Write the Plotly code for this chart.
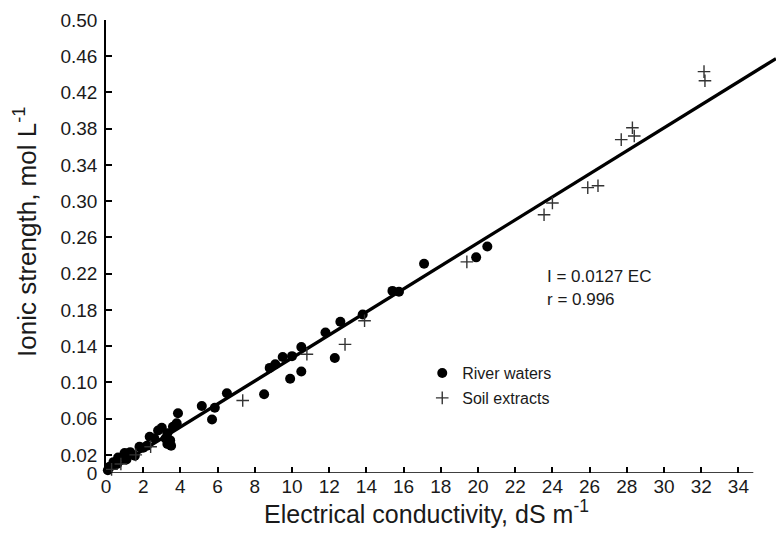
import plotly.graph_objects as go

# River waters (EC dS/m, ionic strength mol/L)
river_ec = [0.1, 0.2, 0.4, 0.6, 0.65, 1.0, 1.1, 1.3, 1.55, 1.8, 2.0, 2.2, 2.35, 2.6, 2.8, 3.0,
            3.2, 3.3, 3.3, 3.45, 3.5, 3.6, 3.8, 3.87, 5.15, 5.7, 5.85, 6.5, 8.5, 8.8, 9.1,
            9.5, 9.9, 10.0, 10.5, 10.5, 11.8, 12.3, 12.6, 13.8, 15.4, 15.75, 17.1, 19.9, 20.5]
river_i = [0.003, 0.007, 0.012, 0.010, 0.017, 0.022, 0.015, 0.023, 0.019, 0.029, 0.028, 0.030,
           0.040, 0.038, 0.047, 0.050, 0.038, 0.044, 0.032, 0.036, 0.030, 0.051, 0.055, 0.066,
           0.074, 0.059, 0.072, 0.088, 0.087, 0.116, 0.120, 0.128, 0.104, 0.129, 0.112, 0.139,
           0.155, 0.127, 0.167, 0.175, 0.201, 0.200, 0.231, 0.238, 0.250]

# Soil extracts
soil_ec = [0.3, 0.8, 1.6, 2.4, 7.35, 10.8, 12.85, 13.9, 19.4, 23.55, 24.0, 25.9, 26.45,
           27.7, 28.3, 28.4, 32.15, 32.2]
soil_i = [0.004, 0.010, 0.020, 0.029, 0.080, 0.131, 0.142, 0.168, 0.233, 0.285, 0.298, 0.315,
          0.317, 0.368, 0.381, 0.372, 0.443, 0.433]

slope = 0.0127
fit_ec = [0.0, 36.02]
fit_i = [slope * e for e in fit_ec]

x_ticks = list(range(0, 35, 2))
y_ticks = [0, 0.02, 0.06, 0.10, 0.14, 0.18, 0.22, 0.26, 0.30, 0.34, 0.38, 0.42, 0.46, 0.50]
y_tick_text = ["0"] + [f"{v:.2f}" for v in y_ticks[1:]]

FONT = "Liberation Sans, Arial, sans-serif"
INK = "#1a1a1a"

fig = go.Figure()
fig.add_trace(go.Scatter(x=fit_ec, y=fit_i, mode="lines", line=dict(color="black", width=3.3),
                         showlegend=False, hoverinfo="skip"))
fig.add_trace(go.Scatter(x=river_ec, y=river_i, mode="markers", name="River waters",
                         marker=dict(symbol="circle", size=10, color="black"),
                         cliponaxis=False, legendgroup="a"))
fig.add_trace(go.Scatter(x=soil_ec, y=soil_i, mode="markers", name="Soil extracts",
                         marker=dict(symbol="cross-thin", size=9,
                                     line=dict(color="#333333", width=1.4)),
                         cliponaxis=False, legendgroup="b"))

fig.add_shape(type="line", xref="x", yref="y", x0=0, x1=34.8, y0=0, y1=0,
              line=dict(color="black", width=1.5))

fig.update_layout(
    width=776, height=534,
    margin=dict(l=106, r=0, t=20, b=61),
    paper_bgcolor="white", plot_bgcolor="white",
    font=dict(family=FONT, color=INK, size=19),
    showlegend=True,
    legend=dict(x=0.472, y=0.258, xanchor="left", yanchor="top",
                font=dict(size=16, family=FONT, color=INK), tracegroupgap=1,
                bgcolor="rgba(0,0,0,0)"),
    xaxis=dict(range=[0, 36.02], tickvals=x_ticks, ticks="inside", ticklen=6, tickwidth=1.5,
               tickcolor="black", showgrid=False, zeroline=False, showline=False,
               tickfont=dict(size=19, family=FONT, color=INK)),
    yaxis=dict(range=[0, 0.5], tickvals=y_ticks, ticktext=y_tick_text, ticks="inside",
               ticklen=6, tickwidth=1.5, tickcolor="black", showgrid=False, zeroline=False,
               showline=True, linecolor="black", linewidth=1.5,
               tickfont=dict(size=19, family=FONT, color=INK), ticklabelstandoff=3),
    annotations=[
        dict(text="Electrical conductivity, dS m<sup>-1</sup>", xref="paper", yref="paper",
             x=0.479, y=-0.086, xanchor="center", yanchor="middle", showarrow=False,
             font=dict(size=25, family=FONT, color=INK)),
        dict(text="Ionic strength, mol L<sup>-1</sup>", xref="paper", yref="paper",
             x=-0.121, y=0.532, xanchor="center", yanchor="middle", textangle=-90,
             showarrow=False, font=dict(size=26, family=FONT, color=INK)),
        dict(text="I = 0.0127 EC", xref="x", yref="y", x=23.6, y=0.217, xanchor="left",
             yanchor="middle", showarrow=False, font=dict(size=17, family=FONT, color=INK)),
        dict(text="r = 0.996", xref="x", yref="y", x=23.6, y=0.191, xanchor="left",
             yanchor="middle", showarrow=False, font=dict(size=17, family=FONT, color=INK)),
    ],
)

fig.write_html("out.html")
